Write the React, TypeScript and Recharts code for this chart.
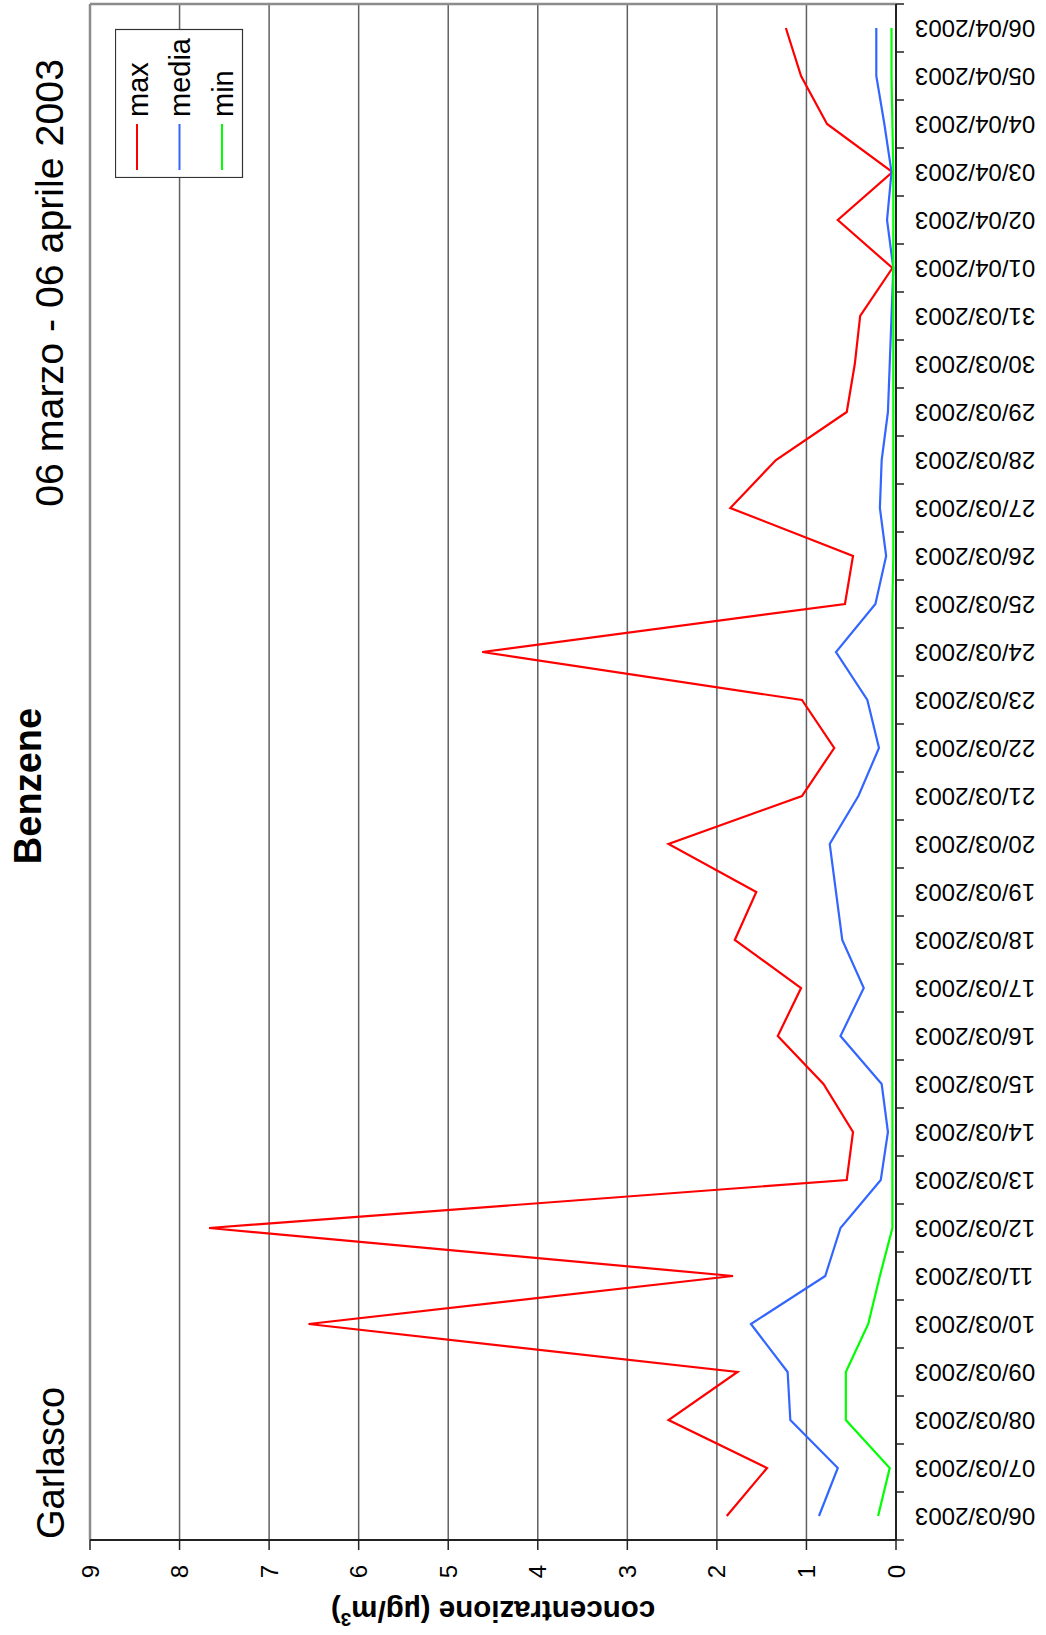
import React from 'react';
import { LineChart, Line, XAxis, YAxis, CartesianGrid, ReferenceLine, Legend } from 'recharts';

const dates = [
  '06/03/2003', '07/03/2003', '08/03/2003', '09/03/2003', '10/03/2003', '11/03/2003',
  '12/03/2003', '13/03/2003', '14/03/2003', '15/03/2003', '16/03/2003', '17/03/2003',
  '18/03/2003', '19/03/2003', '20/03/2003', '21/03/2003', '22/03/2003', '23/03/2003',
  '24/03/2003', '25/03/2003', '26/03/2003', '27/03/2003', '28/03/2003', '29/03/2003',
  '30/03/2003', '31/03/2003', '01/04/2003', '02/04/2003', '03/04/2003', '04/04/2003',
  '05/04/2003', '06/04/2003',
];

const maxValues = [
  1.89, 1.44, 2.54, 1.77, 6.56, 1.82, 7.67, 0.55, 0.48, 0.81, 1.32, 1.06,
  1.8, 1.56, 2.54, 1.05, 0.69, 1.05, 4.62, 0.57, 0.48, 1.85, 1.34, 0.55,
  0.46, 0.4, 0.04, 0.65, 0.04, 0.77, 1.06, 1.23,
];

const mediaValues = [
  0.86, 0.65, 1.18, 1.21, 1.62, 0.79, 0.62, 0.17, 0.09, 0.16, 0.62, 0.36,
  0.6, 0.67, 0.74, 0.42, 0.19, 0.32, 0.67, 0.23, 0.11, 0.18, 0.16, 0.09,
  0.07, 0.05, 0.03, 0.1, 0.05, 0.13, 0.22, 0.22,
];

const minValues = [
  0.2, 0.07, 0.56, 0.56, 0.31, 0.18, 0.04, 0.04, 0.04, 0.04, 0.04, 0.04,
  0.04, 0.04, 0.04, 0.04, 0.04, 0.04, 0.04, 0.04, 0.03, 0.03, 0.03, 0.03,
  0.03, 0.03, 0.03, 0.03, 0.03, 0.04, 0.05, 0.05,
];

const valueTicks = [0, 1, 2, 3, 4, 5, 6, 7, 8, 9];
const seriesKeys = ['max', 'media', 'min'];
const seriesColors = ['#ff0000', '#3366ff', '#00ff00'];

const FONT = '"Liberation Sans", Arial, Helvetica, sans-serif';

// landscape chart, later rotated to portrait
const W = 1635;
const H = 1046;
const PLOT_LEFT = 95;
const PLOT_RIGHT = 1631;
const PLOT_TOP = 90;
const PLOT_BOTTOM = 896;
const HALF_BAND = (PLOT_RIGHT - PLOT_LEFT) / dates.length / 2;

const data = dates.map((d, i) => ({
  pos: i + 0.5,
  date: d,
  max: maxValues[i],
  media: mediaValues[i],
  min: minValues[i],
}));

const boundaryTicks = Array.from({ length: dates.length + 1 }, (_, i) => i);

const DateTick = (props: any) => {
  const { x, y, payload } = props;
  const i = payload.value;
  if (i >= dates.length) return <g />;
  const cx = x + HALF_BAND;
  return (
    <text
      x={cx}
      y={y}
      transform={`rotate(-90, ${cx}, ${y})`}
      textAnchor="end"
      dominantBaseline="central"
      fontSize={24}
      fill="#000"
      fontFamily={FONT}
    >
      {dates[i]}
    </text>
  );
};

const LegendBox = (props: any) => {
  const payload = props.payload || [];
  return (
    <svg width={150} height={129} style={{ display: 'block' }}>
      <rect x={0.5} y={0.5} width={148} height={127} fill="#fff" stroke="#333" strokeWidth={1.2} />
      {payload.map((p: any, i: number) => {
        const cy = 22 + i * 42.5;
        return (
          <g key={p.value}>
            <line x1={8} x2={54} y1={cy} y2={cy} stroke={p.color} strokeWidth={2} />
            <text x={61} y={cy + 10.5} fontSize={29} fontFamily={FONT} fill="#000">
              {p.value}
            </text>
          </g>
        );
      })}
    </svg>
  );
};

function Chart() {
  return (
    <div style={{ position: 'relative', width: W, height: H, background: '#fff' }}>
      <LineChart
        width={W}
        height={H}
        data={data}
        margin={{ top: PLOT_TOP, right: W - PLOT_RIGHT, bottom: 0, left: 0 }}
      >
        <CartesianGrid
          horizontal={true}
          vertical={false}
          stroke="#606060"
          strokeWidth={1.5}
        />
        <XAxis
          dataKey="pos"
          type="number"
          domain={[0, dates.length]}
          ticks={boundaryTicks}
          interval={0}
          allowDataOverflow={true}
          height={H - PLOT_BOTTOM}
          tickSize={8}
          tickMargin={11}
          tick={<DateTick />}
          axisLine={{ stroke: '#222', strokeWidth: 2 }}
          tickLine={{ stroke: '#222', strokeWidth: 1.5 }}
        />
        <YAxis
          type="number"
          domain={[0, 9]}
          ticks={valueTicks}
          interval={0}
          allowDataOverflow={true}
          width={PLOT_LEFT}
          tickSize={10}
          tickMargin={15}
          tick={{ fontSize: 24, fill: '#000', fontFamily: FONT }}
          axisLine={{ stroke: '#222', strokeWidth: 2 }}
          tickLine={{ stroke: '#222', strokeWidth: 1.5 }}
        />
        <ReferenceLine y={9} stroke="#8c8c8c" strokeWidth={2.5} />
        <ReferenceLine x={dates.length} stroke="#8c8c8c" strokeWidth={2.5} />
        <Legend
          layout="vertical"
          align="center"
          verticalAlign="middle"
          content={<LegendBox />}
          wrapperStyle={{ left: 1457, top: 115, width: 150, height: 129 }}
        />
        {seriesKeys.map((k, i) => (
          <Line
            key={k}
            type="linear"
            dataKey={k}
            name={k}
            stroke={seriesColors[i]}
            strokeWidth={2.2}
            dot={false}
            activeDot={false}
            isAnimationActive={false}
          />
        ))}
      </LineChart>
      <svg
        width={W}
        height={H}
        style={{ position: 'absolute', left: 0, top: 0, pointerEvents: 'none' }}
      >
        <text x={96} y={64} fontSize={38} fontFamily={FONT} fill="#000">
          Garlasco
        </text>
        <text x={849} y={41} fontSize={38} fontWeight="bold" textAnchor="middle" fontFamily={FONT} fill="#000">
          Benzene
        </text>
        <text x={1576} y={63} fontSize={39.3} textAnchor="end" fontFamily={FONT} fill="#000">
          06 marzo - 06 aprile 2003
        </text>
        <text
          x={34}
          y={(PLOT_TOP + PLOT_BOTTOM) / 2}
          transform={`rotate(-90, 34, ${(PLOT_TOP + PLOT_BOTTOM) / 2})`}
          fontSize={29.5}
          fontWeight="bold"
          textAnchor="middle"
          fontFamily={FONT}
          fill="#000"
        >
          concentrazione (µg/m<tspan fontSize={19} dy={-12}>3</tspan><tspan dy={12}>)</tspan>
        </text>
      </svg>
    </div>
  );
}

export default function App() {
  return (
    <div style={{ position: 'absolute', left: 0, top: 0, width: H, height: W, overflow: 'hidden', background: '#fff' }}>
      <div
        style={{
          position: 'absolute',
          left: 0,
          top: 0,
          width: W,
          height: H,
          transformOrigin: '0 0',
          transform: `translateY(${W}px) rotate(-90deg)`,
        }}
      >
        <Chart />
      </div>
    </div>
  );
}
